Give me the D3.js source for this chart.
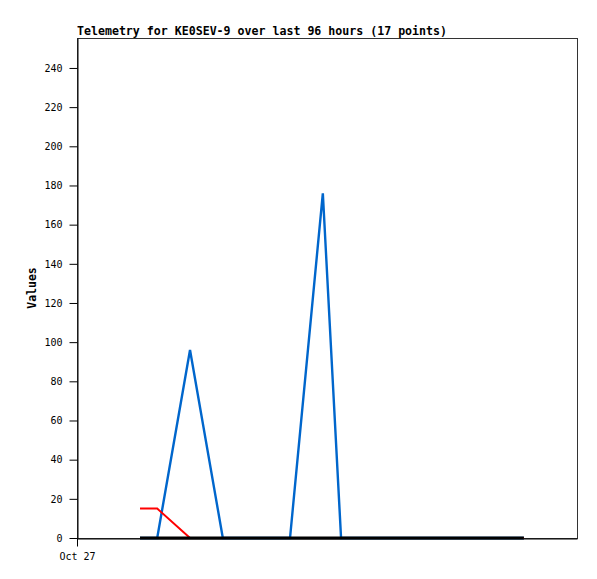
<!DOCTYPE html>
<html>
<head>
<meta charset="utf-8">
<script src="https://cdn.jsdelivr.net/npm/d3@7/dist/d3.min.js"></script>
<style>
  body { margin: 0; background: #fff; }
  svg { display: block; }
</style>
</head>
<body>
<div id="chart"></div>
<script>
// hours since Oct 27 00:00
const hours = [12.1, 15.4, 21.7, 28.0, 34.4, 40.9, 47.2, 50.7, 54.0, 57.2, 60.5, 63.7, 67.0, 70.2, 75.0, 80.4, 85.8];
const blueVals = [0, 0, 96, 0, 0, 0, 176, 0, 0, 0, 0, 0, 0, 0, 0, 0, 0];
const redVals = [15, 15, 0, 0, 0, 0, 0, 0, 0, 0, 0, 0, 0, 0, 0, 0, 0];
const blackVals = [0, 0, 0, 0, 0, 0, 0, 0, 0, 0, 0, 0, 0, 0, 0, 0, 0];
const yTicks = [0, 20, 40, 60, 80, 100, 120, 140, 160, 180, 200, 220, 240];
const xTicks = [0];
const xTickLabels = ['Oct 27'];

const width = 597, height = 579;
const margin = { left: 77, right: 20, top: 38, bottom: 41 };

const svg = d3.select('#chart').append('svg')
    .attr('width', width)
    .attr('height', height);

const x = d3.scaleLinear().domain([0, 96]).range([margin.left, width - margin.right]);
const y = d3.scaleLinear().domain([0, 255.3]).range([height - margin.bottom, margin.top]);

// frame
svg.append('rect')
    .attr('x', margin.left + 0.5)
    .attr('y', margin.top + 0.5)
    .attr('width', width - margin.right - margin.left)
    .attr('height', height - margin.bottom - margin.top)
    .attr('fill', 'none')
    .attr('stroke', '#333');

// y axis
const yAxis = svg.append('g')
    .attr('transform', `translate(${margin.left + 0.5},0)`)
    .call(d3.axisLeft(y).tickValues(yTicks).tickSize(8).tickPadding(7).tickSizeOuter(0));
yAxis.select('.domain').attr('stroke', '#000');
yAxis.selectAll('text')
    .style('font-family', 'DejaVu Sans Mono')
    .style('font-size', '10px')
    .attr('fill', '#000');

// x axis
const xAxis = svg.append('g')
    .attr('transform', `translate(0,${height - margin.bottom + 0.5})`)
    .call(d3.axisBottom(x).tickValues(xTicks).tickFormat((d, i) => xTickLabels[i]).tickSize(8).tickPadding(6).tickSizeOuter(0));
xAxis.select('.domain').attr('stroke', '#000');
xAxis.selectAll('text')
    .style('font-family', 'DejaVu Sans Mono')
    .style('font-size', '10px')
    .attr('fill', '#000');

const line = vals => d3.line()
    .x((d, i) => x(hours[i]))
    .y(d => y(d))(vals);

svg.append('path').attr('d', line(blueVals))
    .attr('fill', 'none').attr('stroke', '#0066cc').attr('stroke-width', 2.4);
svg.append('path').attr('d', line(redVals))
    .attr('fill', 'none').attr('stroke', '#ff0000').attr('stroke-width', 2);
svg.append('path').attr('d', line(blackVals))
    .attr('fill', 'none').attr('stroke', '#000').attr('stroke-width', 3);

// title
svg.append('text')
    .attr('x', margin.left)
    .attr('y', 35)
    .style('font-family', 'DejaVu Sans Mono')
    .style('font-size', '11.6px')
    .style('font-weight', 'bold')
    .attr('textLength', 370)
    .text('Telemetry for KE0SEV-9 over last 96 hours (17 points)');

// y label
svg.append('text')
    .attr('transform', `translate(36,${(margin.top + height - margin.bottom) / 2}) rotate(-90)`)
    .attr('text-anchor', 'middle')
    .style('font-family', 'DejaVu Sans Mono')
    .style('font-size', '11.5px')
    .style('font-weight', 'bold')
    .text('Values');
</script>
</body>
</html>
